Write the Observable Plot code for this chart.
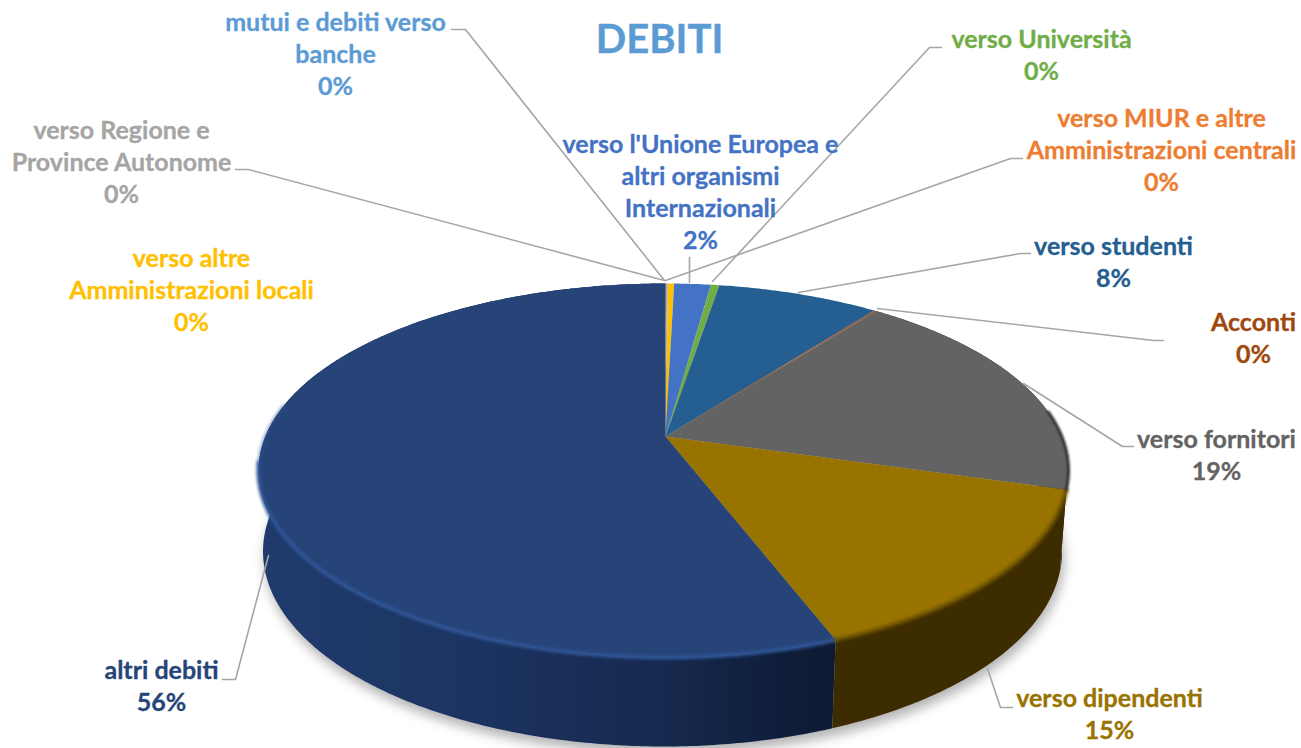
<!DOCTYPE html>
<html><head><meta charset="utf-8">
<script src="https://cdn.jsdelivr.net/npm/d3@7"></script>
<script src="https://cdn.jsdelivr.net/npm/@observablehq/plot@0.6"></script>
<style>html,body{margin:0;background:#fff}svg{display:block}</style>
</head><body><div id="chart"></div>
<script>
// --- data (clockwise from 12 o'clock)
const categories = ["verso MIUR e altre\nAmministrazioni centrali","verso Regione e\nProvince Autonome","mutui e debiti verso\nbanche","verso altre\nAmministrazioni locali","verso l'Unione Europea e\naltri organismi\nInternazionali","verso Università","verso studenti","Acconti","verso fornitori","verso dipendenti","altri debiti"];
const shares = [0.03,0.05,0.03,0.3,1.75,0.4,7.75,0.1,19.1,14.69,55.8];
const percentLabels = ["0%","0%","0%","0%","2%","0%","8%","0%","19%","15%","56%"];
const sliceColors = ["#ED7D31","#A5A5A5","#5B9BD5","#FFC000","#4472C4","#70AD47","#255E91","#9E480E","#636363","#997300","#264478"];
const labelColors = ["#ED7D31","#A5A5A5","#5B9BD5","#FFC000","#4472C4","#70AD47","#255E91","#9E480E","#636363","#997300","#264478"];
const title = "DEBITI";

// --- layout of the labels and leader lines
const labelCentres = [[1161,148],[121,160],[335,52],[191,288],[700,190],[1041,53],[1113,260],[1253,336],[1216,453],[1109,712],[161,684]];
const leaders = [
  [[1022,158],[1010,158],[665,280]],
  [[235,169],[248,169],[664,280]],
  [[451,29],[465,29],[664,280]],
  null,
  [[689,257],[689,282]],
  [[941,47],[929,47],[712,281]],
  [[1030,253],[1020,253],[798,292]],
  [[1163,340],[1153,340],[877,308]],
  [[1133,446],[1122,446],[1023,383]],
  [[1012,707],[1000,707],[987,668]],
  [[222,679],[235,679],[268,555]]
];

// --- perspective disc
const apex = [665,436], persp = 0.1818, hScale = 180.8, wLeft = 400.2, wRight = 396.3;
const topE = {cx:663, cy:470, rx:405.5, ry:187}, botE = {cx:662, cy:551, rx:400, ry:195};
function rimTop(a){
  const u = Math.sin(a), v = Math.cos(a), d = 1 + persp*v;
  return [apex[0] + (u<0?wLeft:wRight)*u/d, apex[1] - hScale*v/d];
}
function rimBottom(a){
  const [x,y] = rimTop(a);
  return [botE.cx + botE.rx*(x-topE.cx)/topE.rx, botE.cy + botE.ry*(y-topE.cy)/topE.ry];
}
const steps = (a0,a1) => { const n = Math.max(2,Math.ceil((a1-a0)/0.01)); return d3.range(n+1).map(i => a0+(a1-a0)*i/n); };
const arcs = d3.pie().sort(null).value(d => d)(shares);
const deg = d => d*Math.PI/180;

const wallFill = {9:"#3D2C00", 10:"url(#wallAltri)", 8:"#2b2b2b"};
const defs = () => {
  const g = d3.create("svg:defs");
  const lg = g.append("linearGradient").attr("id","wallAltri").attr("gradientUnits","userSpaceOnUse")
    .attr("x1",259).attr("x2",835).attr("y1",0).attr("y2",0);
  [[0,"#1F3B6D"],[0.33,"#1C3563"],[0.68,"#172A50"],[0.9,"#0F1E3A"],[1,"#0D1A33"]].forEach(([o,c]) =>
    lg.append("stop").attr("offset",o).attr("stop-color",c));
  return g.node();
};
const wallPoly = i => {
  const s = steps(arcs[i].startAngle, arcs[i].endAngle);
  return [...s.map(rimTop), ...s.slice().reverse().map(rimBottom)];
};
const topPoly = a => [apex, ...steps(a.startAngle,a.endAngle).map(rimTop)];
const polyOpts = {x:d=>d[0], y:d=>d[1]};

const marks = [
  defs,
  Plot.line(steps(0,2*Math.PI).map(a => { const [x,y]=rimBottom(a); return [x+2,y+7]; }),
    {...polyOpts, fill:"#000", fillOpacity:0.3, stroke:"none", imageFilter:"blur(6px)"}),
  ...[8,10,9].map(i => Plot.line(wallPoly(i), {...polyOpts, fill:wallFill[i], stroke:"none"})),
  ...arcs.map((a,i) => Plot.line(topPoly(a), {...polyOpts, fill:sliceColors[i], stroke:"none"})),
  // soft bevel along the rim
  Plot.line(steps(arcs[10].startAngle, deg(262)).map(rimTop), {...polyOpts, stroke:"#2F5596", strokeWidth:4, imageFilter:"blur(1.5px)"}),
  Plot.line(steps(deg(262), deg(280)).map(rimTop), {...polyOpts, stroke:"#2F5596", strokeOpacity:0.5, strokeWidth:3, imageFilter:"blur(1.5px)"}),
  Plot.line(steps(arcs[9].startAngle, arcs[9].endAngle).map(rimTop), {...polyOpts, stroke:"#6A5000", strokeWidth:4, imageFilter:"blur(1.5px)"}),
  Plot.line(steps(deg(82), arcs[8].endAngle).map(rimTop), {...polyOpts, stroke:"#333", strokeWidth:3, imageFilter:"blur(1.2px)"}),
  // leader lines
  ...leaders.filter(Boolean).map(l => Plot.line(l, {...polyOpts, stroke:"#A6A6A6", strokeWidth:1.6})),
  // labels
  Plot.text(categories.map((c,i) => ({t:`${c}\n${percentLabels[i]}`, x:labelCentres[i][0], y:labelCentres[i][1], c:labelColors[i]})),
    {x:"x", y:"y", text:"t", fill:d=>d.c, stroke:d=>d.c, strokeWidth:0.3, fontSize:25, lineHeight:1.28, fontWeight:700, fontFamily:"Lato", textAnchor:"middle", lineAnchor:"middle"}),
  Plot.text([title], {x:()=>659, y:()=>40, text:d=>d, fill:"#5B9BD5", stroke:"#5B9BD5", strokeWidth:0.4, fontSize:40, fontWeight:700, fontFamily:"Lato", textAnchor:"middle", lineAnchor:"middle"})
];

document.getElementById("chart").append(Plot.plot({
  width:1301, height:748, margin:0,
  x:{domain:[0,1301], range:[0,1301], axis:null},
  y:{domain:[0,748], range:[0,748], axis:null},
  color:{type:"identity"},
  marks
}));
</script></body></html>
